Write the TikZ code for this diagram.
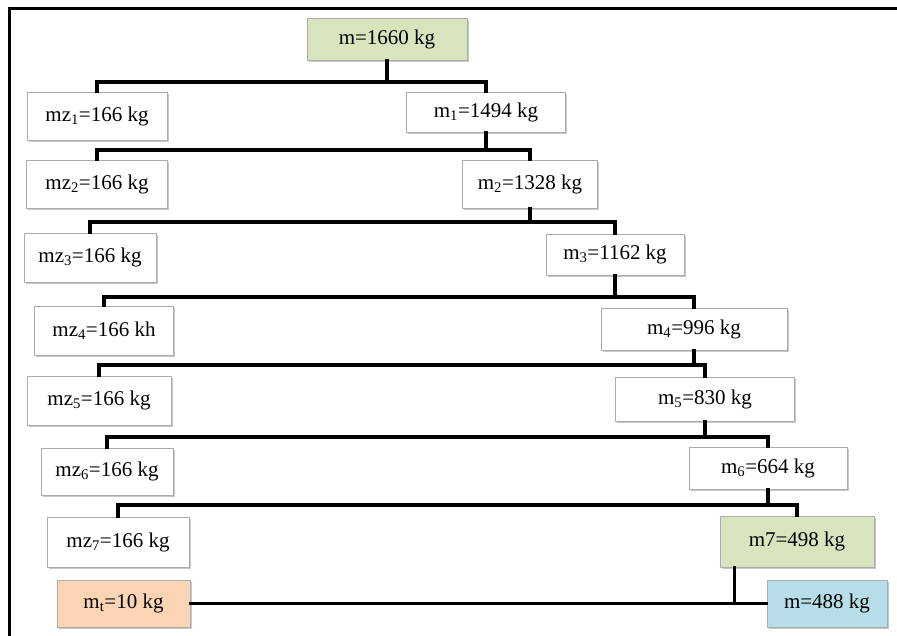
\documentclass[tikz,border=0pt]{standalone}
\usepackage{fontspec}
\setmainfont{Liberation Serif}
\usetikzlibrary{shadows}
\definecolor{boxgreen}{HTML}{D7E4BD}
\definecolor{boxorange}{HTML}{FBD4B4}
\definecolor{boxblue}{HTML}{B7DEE8}
\tikzset{
  mbox/.style={draw=gray!65, line width=0.8pt, fill=white, inner sep=0pt,
    font=\fontsize{21}{24}\selectfont,
    drop shadow={shadow xshift=1.6pt, shadow yshift=-1.6pt, fill=gray!55, opacity=0.8}},
  conn/.style={line width=3.3pt, line cap=rect},
  frame/.style={line width=3pt}
}
\newcommand{\sbs}[1]{\textsubscript{#1}}
\begin{document}
\begin{tikzpicture}[x=1pt,y=-1pt]
\useasboundingbox (0,0) rectangle (897,636);
% frame
\coordinate (fl) at (9,636);
\coordinate (ftl) at (9,9);
\coordinate (fr) at (897,9);
\draw[frame] (fl) -- (ftl) -- (fr);
% nodes
\node[mbox, fill=boxgreen, minimum width=160pt, minimum height=42pt] (m0) at (387,39) {m=1660 kg};
\node[mbox, minimum width=140pt, minimum height=48pt] (mz1) at (97,116) {mz\sbs{1}=166 kg};
\node[mbox, minimum width=159pt, minimum height=40pt] (m1) at (486,112) {m\sbs{1}=1494 kg};
\node[mbox, minimum width=141pt, minimum height=48pt] (mz2) at (97,184) {mz\sbs{2}=166 kg};
\node[mbox, minimum width=135pt, minimum height=48pt] (m2) at (530,184) {m\sbs{2}=1328 kg};
\node[mbox, minimum width=132pt, minimum height=49pt] (mz3) at (90,257.5) {mz\sbs{3}=166 kg};
\node[mbox, minimum width=138pt, minimum height=41pt] (m3) at (615,254.5) {m\sbs{3}=1162 kg};
\node[mbox, minimum width=139pt, minimum height=49pt] (mz4) at (104,330.5) {mz\sbs{4}=166 kh};
\node[mbox, minimum width=186pt, minimum height=42pt] (m4) at (694,329) {m\sbs{4}=996 kg};
\node[mbox, minimum width=144pt, minimum height=49pt] (mz5) at (99,400.5) {mz\sbs{5}=166 kg};
\node[mbox, minimum width=179pt, minimum height=44pt] (m5) at (705,399) {m\sbs{5}=830 kg};
\node[mbox, minimum width=132pt, minimum height=47pt] (mz6) at (107,471.5) {mz\sbs{6}=166 kg};
\node[mbox, minimum width=158pt, minimum height=42pt] (m6) at (768,468) {m\sbs{6}=664 kg};
\node[mbox, minimum width=142pt, minimum height=50pt] (mz7) at (118,542) {mz\sbs{7}=166 kg};
\node[mbox, fill=boxgreen, minimum width=154pt, minimum height=51pt] (m7) at (797,541.5) {m7=498 kg};
\node[mbox, fill=boxorange, minimum width=133pt, minimum height=47pt] (mt) at (123.5,603.5) {m\sbs{t}=10 kg};
\node[mbox, fill=boxblue, minimum width=120pt, minimum height=47pt] (mr) at (827,603.5) {m=488 kg};
% connectors
\draw[conn] (m0.south) -- (m0.south |- 0,82) coordinate (j0);
\draw[conn] (mz1.north) |- (j0) -| (m1.north);
\draw[conn] (m1.south) -- (m1.south |- 0,150) coordinate (j1);
\draw[conn] (mz2.north) |- (j1) -| (m2.north);
\draw[conn] (m2.south) -- (m2.south |- 0,222) coordinate (j2);
\draw[conn] (mz3.north) |- (j2) -| (m3.north);
\draw[conn] (m3.south) -- (m3.south |- 0,297) coordinate (j3);
\draw[conn] (mz4.north) |- (j3) -| (m4.north);
\draw[conn] (m4.south) -- (m4.south |- 0,365) coordinate (j4);
\draw[conn] (mz5.north) |- (j4) -| (m5.north);
\draw[conn] (m5.south) -- (m5.south |- 0,437) coordinate (j5);
\draw[conn] (mz6.north) |- (j5) -| (m6.north);
\draw[conn] (m6.south) -- (m6.south |- 0,505) coordinate (j6);
\draw[conn] (mz7.north) |- (j6) -| (m7.north);
\coordinate (m7drop) at ([xshift=15pt]m7.south west);
\draw[conn] (m7drop) -- (m7drop |- mt.east);
\draw[conn] (mt.east) -- (mr.west);
\end{tikzpicture}
\end{document}
